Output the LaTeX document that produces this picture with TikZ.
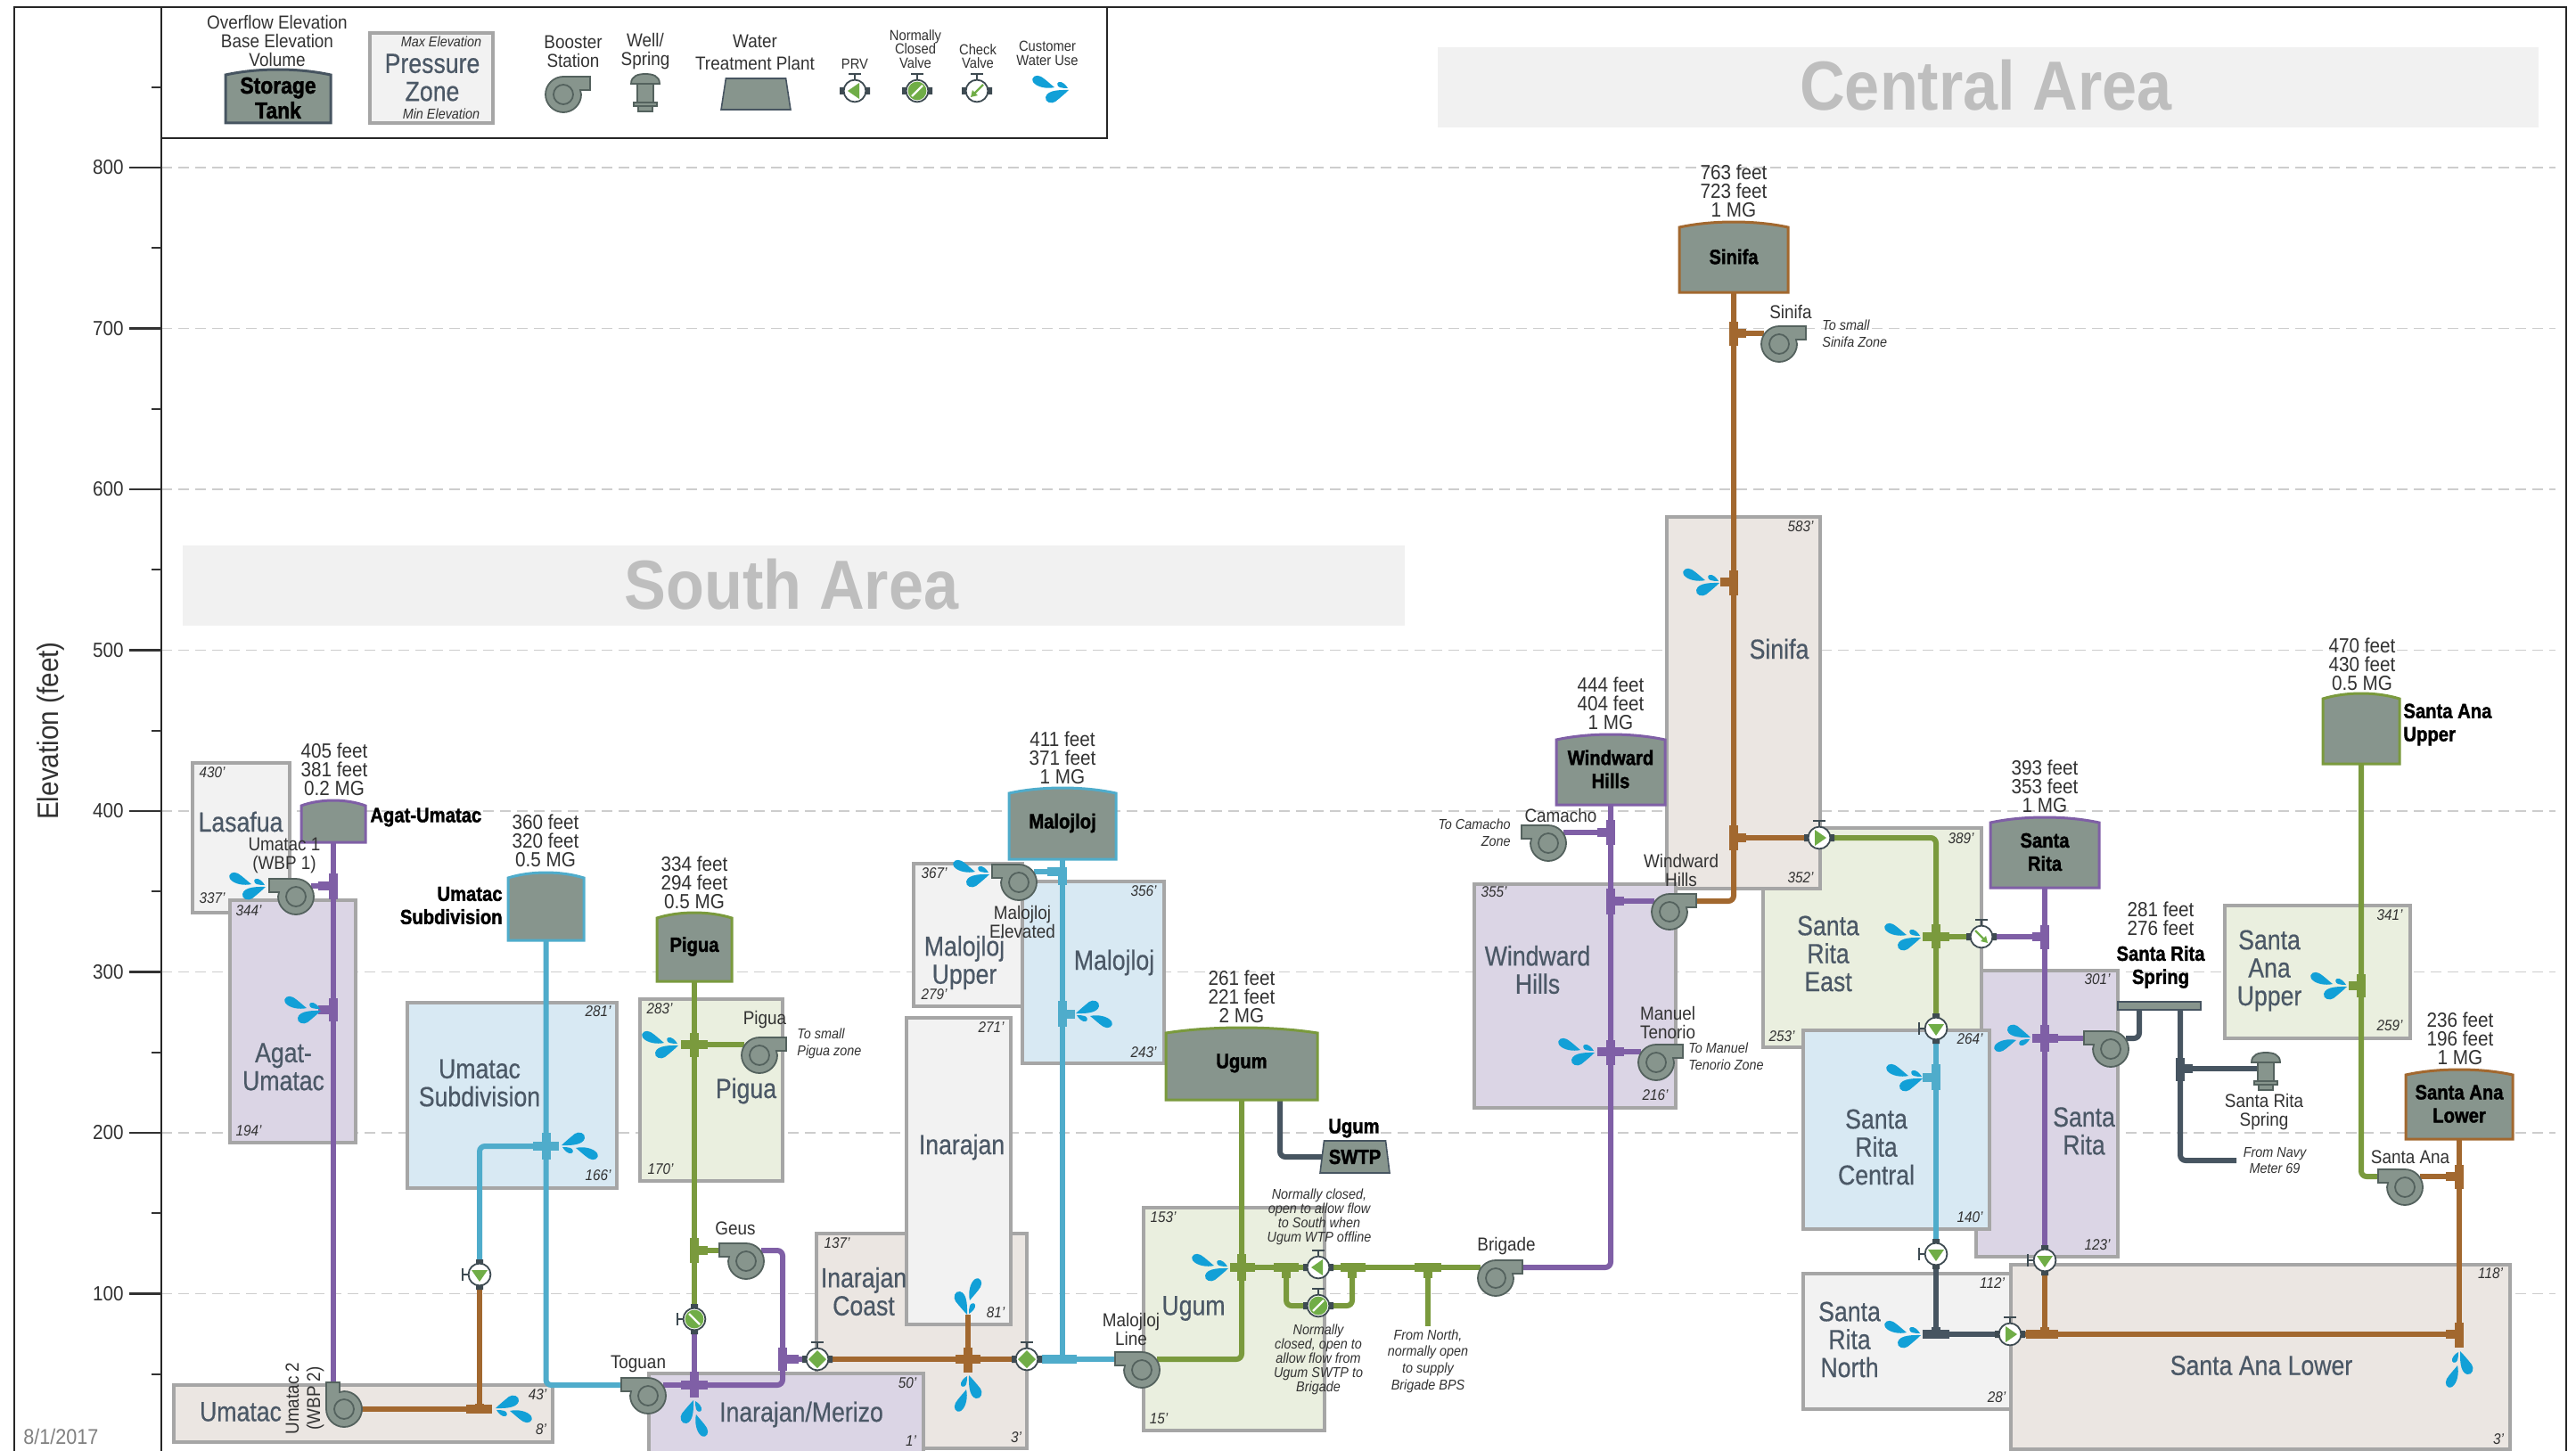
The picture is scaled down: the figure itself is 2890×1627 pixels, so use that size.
\documentclass[tikz,border=0pt]{standalone}
\usepackage{fontspec}
\setmainfont[FakeStretch=0.9]{Liberation Sans}
\newfontfamily\heavyfont[FakeStretch=0.88,FakeBold=1.6,UprightFont={* Bold}]{Liberation Sans}
\newfontfamily\zonefont[FakeStretch=0.86,FakeBold=0.5]{Liberation Sans}
\usepackage{xcolor}
\usetikzlibrary{positioning, arrows.meta, backgrounds, calc, shapes.geometric}
\pgfdeclarelayer{pipes}
\pgfsetlayers{background,pipes,main}
\definecolor{slate}{RGB}{75,88,102}
\definecolor{ink}{RGB}{50,50,50}
\definecolor{rulegrey}{RGB}{166,166,166}
\definecolor{gridgrey}{RGB}{205,205,205}
\definecolor{bandgrey}{RGB}{241,241,241}
\definecolor{bandtext}{RGB}{190,190,190}
\definecolor{zgrey}{RGB}{242,242,242}
\definecolor{zbrown}{RGB}{235,230,226}
\definecolor{zpurple}{RGB}{219,213,229}
\definecolor{zblue}{RGB}{216,233,243}
\definecolor{zgreen}{RGB}{234,239,223}
\definecolor{pipepurple}{RGB}{127,95,166}
\definecolor{pipeblue}{RGB}{79,172,203}
\definecolor{pipegreen}{RGB}{122,154,61}
\definecolor{pipebrown}{RGB}{162,104,47}
\definecolor{pipedark}{RGB}{71,85,97}
\definecolor{tankgrey}{RGB}{135,149,141}
\definecolor{pumpedge}{RGB}{84,98,94}
\definecolor{valvedark}{RGB}{62,75,82}
\definecolor{valvegreen}{RGB}{112,173,71}
\definecolor{dropblue}{RGB}{18,160,215}
\newcommand{\valvebody}{%
  \coordinate (-c) at (0,0);
  \draw[valvedark, line width=1.2pt] (0,-12) -- (0,-19) (-7,-19) -- (7,-19);
  \fill[valvedark] (-17,-4) rectangle (-10,4) (10,-4) rectangle (17,4);
  \draw[draw=valvedark, fill=white, line width=.9pt] (0,0) circle[radius=6.2pt];
}
\tikzset{
  pumpbody/.style={fill=tankgrey, draw=pumpedge, line width=.9pt},
  pics/pump/.style={code={
    \coordinate (-c) at (0,0);
    \coordinate (-dis) at (-30,-12);
    \coordinate (-suc) at (17,-12);
    \draw[pumpbody] (-30,-20) -- (0,-20) .. controls (11,-20) and (20,-11) .. (20,0)
       .. controls (20,11) and (11,20) .. (0,20) .. controls (-11,20) and (-20,11) .. (-20,0)
       .. controls (-20,-2) and (-19.5,-3) .. (-19,-5) -- (-30,-5) -- cycle;
    \draw[pumpbody] (0,0) circle[radius=5.5pt];
  }},
  pics/drops/.style={code={
    \fill[dropblue] (-16,-2) .. controls (-24,0) and (-36,-2) .. (-40,-8)
       .. controls (-43,-14) and (-36,-17) .. (-31,-14) .. controls (-26,-11) and (-20,-5) .. (-16,-2) -- cycle;
    \fill[dropblue] (0,1) .. controls (-6,1) and (-24,0) .. (-26,9)
       .. controls (-27,15) and (-19,17) .. (-15,14) .. controls (-10,10) and (-4,5) .. (0,1) -- cycle;
    \fill[dropblue] (-1,-1) .. controls (-3,-5) and (-8,-9) .. (-11,-8)
       .. controls (-14,-7) and (-13,-3) .. (-10,-2) .. controls (-7,-1) and (-4,-1) .. (-1,-1) -- cycle;
  }},
  pics/well/.style={code={
    \coordinate (-in) at (-9,18);
    \draw[pumpbody] (-16,11) .. controls (-16,2) and (-8,0) .. (0,0) .. controls (8,0) and (16,2) .. (16,11) -- cycle;
    \draw[pumpbody] (-9,11) rectangle (9,32);
    \draw[pumpbody] (-13,32) rectangle (13,36);
    \draw[pumpbody] (-8,36) rectangle (8,42);
  }},
  pics/prv/.style={code={\valvebody
    \fill[valvegreen] (-8,0) -- (5,-9) -- (5,9) -- cycle;
  }},
  pics/closedvalve/.style={code={\valvebody
    \fill[valvegreen] (0,0) circle[radius=5.2pt];
    \draw[white, line width=1.1pt] (-6,6) -- (6,-6);
  }},
  pics/gatevalve/.style={code={\valvebody
    \fill[valvegreen] (-10,0) -- (0,-10) -- (10,0) -- (0,10) -- cycle;
  }},
  pics/checkvalve/.style={code={\valvebody
    \draw[valvegreen, line width=1.1pt, -{Triangle[length=3.5pt,width=4pt]}] (7,-7) -- (-7,7);
  }}
}
\begin{document}
\begin{tikzpicture}[
    x=0.5pt, y=-0.5pt,
    zone/.style={draw=rulegrey, line width=1.7pt, inner sep=0pt},
    zonetext/.style={text=slate, align=center, font=\fontsize{15.5}{15.7}\zonefont},
    tag/.style={text=ink, font=\fontsize{8.5}{9}\itshape\selectfont},
    lbl/.style={text=ink, align=center, inner sep=0pt, font=\fontsize{10.5}{10.5}\selectfont},
    tiny/.style={text=ink, align=center, font=\fontsize{8.2}{7.8}\selectfont},
    note/.style={text=ink, align=center, inner sep=0pt, font=\fontsize{8}{8}\itshape\selectfont},
    notewide/.style={note, font=\fontsize{8}{9.3}\itshape\selectfont},
    heavy/.style={text=black, align=center, inner sep=0pt, font=\fontsize{11.5}{13}\heavyfont},
    tankbody/.style={fill=tankgrey, line width=1.5pt},
    tank/.style={heavy, inner sep=0pt, outer sep=0pt},
    wtp/.style={trapezium, trapezium left angle=77, trapezium right angle=77, trapezium stretches=true,
                fill=tankgrey, draw=pipedark, line width=.8pt, inner sep=0pt, outer sep=0pt,
                minimum width=39pt, minimum height=18pt},
    pipe/.style={line width=3pt, rounded corners=3pt},
    tick/.style={draw=ink, line width=1.1pt},
    frameline/.style={draw=black!85, line width=1.2pt},
    band/.style={fill=bandgrey, inner sep=0pt},
    bandlbl/.style={text=bandtext, font=\fontsize{39}{39}\selectfont\bfseries}
  ]
  \useasboundingbox (0,0) rectangle (2890,1627);

  \begin{scope}[on background layer]
    % elevation grid
    \foreach \v in {100,200,...,800} {
      \draw[gridgrey, line width=.6pt, dash pattern=on 6pt off 3.5pt]
        (181,{188+(800-\v)*1.805}) -- (2867,{188+(800-\v)*1.805});
    }
    \node[band, minimum width=685.5pt, minimum height=45pt] (southband) at (890.5,657) {};
    \node[band, minimum width=617.5pt, minimum height=45pt] (centralband) at (2230.5,98) {};
    % pressure zones, back to front
    \foreach \n/\xa/\ya/\xb/\yb/\c in {
      zLasafua/216/856/325/1024/zgrey, zAgat/258/1010/399/1282/zpurple,
      zUmSub/457/1125/692/1333/zblue, zPigua/718/1121/878/1325/zgreen,
      zUmatac/195/1554/620/1618/zbrown, zInCoast/916/1384/1152/1625/zbrown,
      zMerizo/728/1541/1036/1645/zpurple, zInarajan/1017/1142/1134/1486/zgrey,
      zMalUp/1025/969/1147/1129/zgrey, zMalojloj/1147/989/1306/1193/zblue,
      zUgum/1283/1355/1486/1605/zgreen, zSrMain/2217/1089/2376/1410/zpurple,
      zSrEast/1978/929/2223/1175/zgreen, zSinifa/1870/580/2042/997/zbrown,
      zWindward/1654/992/1880/1243/zpurple, zSrCentral/2023/1156/2232/1379/zblue,
      zSrNorth/2023/1429/2256/1581/zgrey, zSaLower/2256/1419/2816/1626/zbrown,
      zSaUpper/2496/1016/2704/1165/zgreen} {
      \node[zone, fill=\c, minimum width={(\xb-\xa)*0.5pt}, minimum height={(\yb-\ya)*0.5pt}]
        (\n) at ({(\xa+\xb)/2},{(\ya+\yb)/2}) {};
    }
  \end{scope}

  % frame and axis
  \draw[frameline] (16,1640) -- (16,8) -- (2879,8) -- (2879,1640);
  \draw[frameline] (181,1640) -- (181,155) -- (1242,155) -- (1242,8);
  \draw[frameline] (181,155) -- (181,8);
  \foreach \v in {100,200,...,800} {
    \draw[tick] (145,{188+(800-\v)*1.805}) -- (181,{188+(800-\v)*1.805});
    \node[lbl, font=\fontsize{11.5}{11.5}\selectfont, anchor=east] (ax\v) at (139,{188+(800-\v)*1.805}) {\v};
  }
  \foreach \v in {50,150,...,850} {
    \draw[tick] (170,{188+(800-\v)*1.805}) -- (181,{188+(800-\v)*1.805});
  }
  \node[lbl, rotate=90, font=\fontsize{16.5}{16.5}\selectfont] (axis) at (57,820) {Elevation (feet)};
  \node[lbl, text=black!50, font=\fontsize{12}{12}\selectfont, anchor=west] (stamp) at (26,1612) {8/1/2017};
  \node[bandlbl] (southlbl) at (888,656) {South Area};
  \node[bandlbl] (centrallbl) at (2228,96) {Central Area};

  % legend
  \node[lbl] (lgOver) at (311,46) {Overflow Elevation\\[.2pt]Base Elevation\\[.2pt]Volume};
  \draw[tankbody, draw=pipedark] (253,138) -- (253,84) .. controls (290,76) and (334,76) .. (371,84) -- (371,138) -- cycle;
  \node[tank, font=\fontsize{13}{14}\heavyfont, minimum width=59pt, minimum height=30pt] (lgTank) at (312,110) {Storage\\Tank};
  \node[zone, fill=zgrey, minimum width=69pt, minimum height=50.5pt] (lgZone) at (484,87.5) {};
  \node[tag, font=\fontsize{8}{8}\itshape\selectfont] (lgMax) at (495,47) {Max Elevation};
  \node[zonetext] (lgPress) at (485,87) {Pressure\\Zone};
  \node[tag, font=\fontsize{8}{8}\itshape\selectfont] (lgMin) at (495,128) {Min Elevation};
  \node[lbl] (lgBooster) at (643,58) {Booster\\Station};
  \pic[xscale=-1] (lgPump) at (632,106) {pump};
  \node[lbl] (lgWell) at (724,58) {Well/\\Spring};
  \pic (lgSpring) at (724,83) {well};
  \node[lbl, font=\fontsize{10.5}{12.5}\selectfont] (lgPlant) at (847,59) {Water\\Treatment Plant};
  \node[wtp, minimum width=39pt, minimum height=17.5pt] (lgWtp) at (848,105.5) {\phantom{WTP}};
  \node[tiny] (lgPrvT) at (959,72) {PRV};
  \pic (lgPrv) at (959,102) {prv};
  \node[tiny] (lgClosedT) at (1027,55) {Normally\\Closed\\Valve};
  \pic (lgClosed) at (1029,102) {closedvalve};
  \node[tiny] (lgCheckT) at (1097,63) {Check\\Valve};
  \pic (lgCheck) at (1096,102) {checkvalve};
  \node[tiny] (lgUseT) at (1175,60) {Customer\\Water Use};
  \pic (lgUse) at (1199,100) {drops};

  % zone names
  \foreach \x/\y/\t [count=\i] in {
    270/922/Lasafua, 318/1197/{Agat-\\Umatac}, 538/1215/{Umatac\\Subdivision},
    837/1224/Pigua, 270/1584/Umatac, 969/1449/{Inarajan\\Coast}, 1079/1287/Inarajan,
    1082/1080/{Malojloj\\Upper}, 1250/1080/Malojloj, 1339/1468/Ugum,
    1725/1088/{Windward\\Hills}, 1996/728/Sinifa, 2051/1070/{Santa\\Rita\\East},
    2338/1269/{Santa\\Rita}, 2105/1287/{Santa\\Rita\\Central}, 2075/1503/{Santa\\Rita\\North},
    2537/1532/Santa Ana Lower, 2546/1089/{Santa\\Ana\\Upper}} {
    \node[zonetext] (zn\i) at (\x,\y) {\t};
  }
  \node[zonetext] (znMerizo) at (899,1587) {Inarajan/Merizo};

  % zone elevations
  \foreach \x/\y/\t [count=\i] in {
    238/867/430', 238/1008/337', 279/1022/344', 279/1269/194', 671/1135/281', 671/1319/166',
    740/1132/283', 741/1312/170', 603/1565/43', 607/1604/8', 939/1395/137', 1140/1613/3',
    1018/1552/50', 1022/1617/1', 1112/1153/271', 1117/1473/81', 1048/980/367', 1048/1116/279',
    1283/1000/356', 1283/1181/243', 1305/1366/153', 1300/1592/15', 1676/1001/355', 1857/1229/216',
    2020/591/583', 2020/985/352', 2200/941/389', 1999/1163/253', 2353/1099/301', 2353/1397/123',
    2210/1166/264', 2210/1366/140', 2235/1440/112', 2240/1568/28', 2794/1429/118', 2803/1615/3',
    2681/1027/341', 2681/1151/259'} {
    \node[tag] (el\i) at (\x,\y) {\t};
  }

  % tanks
  \foreach \n/\xa/\ya/\xb/\yb/\c/\t in {
    tkAgat/338/897/410/945/pipepurple/{}, tkUmSub/570/978/655/1055/pipeblue/{},
    tkPigua/737/1023/821/1101/pipegreen/Pigua, tkMalojloj/1132/883/1252/964/pipeblue/Malojloj,
    tkUgum/1308/1152/1478/1234/pipegreen/Ugum, tkWindward/1746/823/1868/903/pipepurple/{Windward\\Hills},
    tkSinifa/1884/248/2006/328/pipebrown/Sinifa, tkSantaRita/2233/916/2355/996/pipepurple/{Santa\\Rita},
    tkSaUpper/2606/777/2692/857/pipegreen/{}, tkSaLower/2699/1199/2819/1278/pipebrown/{Santa Ana\\Lower}} {
    \draw[tankbody, draw=\c] (\xa,\yb) -- ({\xa},{\ya+7})
       .. controls ({\xa+(\xb-\xa)*0.3},{\ya-1}) and ({\xb-(\xb-\xa)*0.3},{\ya-1}) .. ({\xb},{\ya+7})
       -- (\xb,\yb) -- cycle;
    \node[tank, minimum width={(\xb-\xa)*0.5pt}, minimum height={(\yb-\ya)*0.5pt}]
      (\n) at ({(\xa+\xb)/2},{(\ya+\yb)/2}) {\t};
  }
  \node[wtp, font=\fontsize{11.5}{11.5}\heavyfont] (wtpUgum) at (1520,1298) {SWTP};
  \node[fill=tankgrey, draw=pipedark, line width=.8pt, minimum width=46.5pt, minimum height=4.5pt, inner sep=0pt, outer sep=0pt]
    (barSpring) at (2422.5,1128.5) {};

  % tank data
  \foreach \x/\y/\t [count=\i] in {
    375/863/{405 feet\\381 feet\\0.2 MG}, 612/943/{360 feet\\320 feet\\0.5 MG},
    779/990/{334 feet\\294 feet\\0.5 MG}, 1192/850/{411 feet\\371 feet\\1 MG},
    1393/1118/{261 feet\\221 feet\\2 MG}, 1807/789/{444 feet\\404 feet\\1 MG},
    1945/214/{763 feet\\723 feet\\1 MG}, 2294/882/{393 feet\\353 feet\\1 MG},
    2424/1031/{281 feet\\276 feet}, 2650/745/{470 feet\\430 feet\\0.5 MG},
    2760/1165/{236 feet\\196 feet\\1 MG}} {
    \node[lbl, font=\fontsize{11.5}{10.6}\selectfont] (data\i) at (\x,\y) {\t};
  }
  \node[heavy, anchor=west] (nmAgat) at (415,917) {Agat-Umatac};
  \node[heavy, anchor=east, align=right] (nmUmSub) at (564,1016) {Umatac\\Subdivision};
  \node[heavy, anchor=west, align=left] (nmSaUpper) at (2696,813) {Santa Ana\\Upper};
  \node[heavy] (nmSpring) at (2424,1085) {Santa Rita\\Spring};
  \node[heavy] (nmSwtp) at (1519,1266) {Ugum};

  % pumps and spring
  \pic (pUmatacA) at (332,1006) {pump};
  \pic[rotate=90, xscale=-1] (pUmatacB) at (386,1581) {pump};
  \pic (pToguan) at (727,1566) {pump};
  \pic[xscale=-1] (pPigua) at (852,1184) {pump};
  \pic (pGeus) at (837,1415) {pump};
  \pic (pElevated) at (1143,990) {pump};
  \pic (pLine) at (1281,1537) {pump};
  \pic[xscale=-1] (pBrigade) at (1678,1434) {pump};
  \pic (pCamacho) at (1737,946) {pump};
  \pic[xscale=-1] (pWindward) at (1873,1023) {pump};
  \pic[xscale=-1] (pTenorio) at (1858,1192) {pump};
  \pic[xscale=-1] (pSinifa) at (1996,386) {pump};
  \pic (pSantaRita) at (2368,1177) {pump};
  \pic (pSantaAna) at (2698,1332) {pump};
  \pic (wSpring) at (2542,1181) {well};

  % valves
  \pic[rotate=90] (vUmatac) at (538,1430) {prv};
  \pic[rotate=90] (vGeus) at (779,1480) {closedvalve};
  \pic (vInWest) at (917,1525) {gatevalve};
  \pic (vInEast) at (1152,1525) {gatevalve};
  \pic (vUgumA) at (1479,1422) {prv};
  \pic (vUgumB) at (1479,1465) {closedvalve};
  \pic[xscale=-1] (vSinifa) at (2041,940) {prv};
  \pic[xscale=-1] (vEast) at (2223,1051) {checkvalve};
  \pic[rotate=90] (vCentTop) at (2172,1154) {prv};
  \pic[rotate=90] (vCentLow) at (2172,1407) {prv};
  \pic[rotate=90] (vRita) at (2294,1414) {prv};
  \pic[xscale=-1] (vNorth) at (2255,1497) {prv};

  % customer use
  \pic (dUmatacA) at (298,994) {drops};
  \pic (dAgat) at (360,1133) {drops};
  \pic[rotate=180] (dUmatac) at (556,1581) {drops};
  \pic[rotate=180] (dUmSub) at (630,1286) {drops};
  \pic (dPigua) at (761,1172) {drops};
  \pic[rotate=90, yscale=-1] (dMerizo) at (779,1571) {drops};
  \pic[rotate=90] (dCoast) at (1086,1543) {drops};
  \pic[rotate=-90] (dInarajan) at (1086,1475) {drops};
  \pic (dMalUp) at (1110,980) {drops};
  \pic[rotate=180] (dMalojloj) at (1207,1138) {drops};
  \pic (dUgum) at (1378,1422) {drops};
  \pic (dWindward) at (1789,1180) {drops};
  \pic (dSinifa) at (1929,653) {drops};
  \pic (dEast) at (2155,1051) {drops};
  \pic[yscale=-1] (dRita) at (2278,1165) {drops};
  \pic (dCentral) at (2157,1209) {drops};
  \pic (dNorth) at (2155,1497) {drops};
  \pic (dSaUpper) at (2633,1106) {drops};
  \pic[rotate=90] (dSaLower) at (2759,1516) {drops};

  % pump names
  \foreach \x/\y/\t [count=\i] in {
    319/960/{Umatac 1\\(WBP 1)}, 716/1530/Toguan, 858/1144/Pigua, 825/1378/Geus,
    1147/1034/{Malojloj\\Elevated}, 1269/1491/{Malojloj\\Line}, 1690/1398/Brigade,
    1751/915/Camacho, 1886/976/{Windward\\Hills}, 1871/1147/{Manuel\\Tenorio},
    2009/350/Sinifa, 2704/1298/Santa Ana, 2540/1248/{Santa Rita\\Spring}} {
    \node[lbl] (pn\i) at (\x,\y) {\t};
  }
  \node[lbl, rotate=90, font=\fontsize{10.5}{12}\selectfont] (pnUmatacB) at (342,1569) {Umatac 2\\(WBP 2)};

  % remarks
  \node[notewide, anchor=west, align=left] (rmPigua) at (894,1171) {To small\\Pigua zone};
  \node[notewide, anchor=west, align=left] (rmTenorio) at (1894,1185) {To Manuel\\Tenorio Zone};
  \node[notewide, anchor=west, align=left] (rmSinifa) at (2044,374) {To small\\Sinifa Zone};
  \node[notewide, anchor=east, align=right] (rmCamacho) at (1695,934) {To Camacho\\Zone};
  \node[notewide] (rmNavy) at (2552,1302) {From Navy\\Meter 69};
  \node[note] (rmSouth) at (1480,1365) {Normally closed,\\open to allow flow\\to South when\\Ugum WTP offline};
  \node[note] (rmSwtp) at (1479,1525) {Normally\\closed, open to\\allow flow from\\Ugum SWTP to\\Brigade};
  \node[notewide] (rmNorth) at (1602,1527) {From North,\\normally open\\to supply\\Brigade BPS};

  \begin{pgfonlayer}{pipes}
    % fittings on the mains: name/x/y/colour/left/right/up/down
    \foreach \n/\x/\y/\c/\l/\r/\u/\d in {
      tAgatA/374/994/pipepurple/17/5/14/15, tAgatB/374/1133/pipepurple/17/5/13/13,
      tSubA/612.5/1286/pipeblue/15/14/15/15, tUmatac/538/1581/pipebrown/15/14/6/5,
      tPiguaA/779/1172/pipegreen/15/15/13/14, tPiguaB/779/1403/pipegreen/5/15/14/14,
      tToguan/779/1554/pipepurple/15/15/15/14, tGeus/878/1525/pipepurple/5/18/13/13,
      tCoast/1086/1525/pipebrown/14/14/13/15, tMalA/1192/1525/pipeblue/23/16/5/5,
      tMalB/1192/978/pipeblue/17/5/5/15, tMalC/1192/1138/pipeblue/5/14/15/14,
      tUgumA/1393/1422/pipegreen/13/15/15/15, tUgumB/1443/1422/pipegreen/14/14/5/12,
      tUgumC/1517/1422/pipegreen/13/15/5/12, tUgumD/1602/1422/pipegreen/15/15/5/12,
      tWindA/1807/934/pipepurple/15/5/14/14, tWindB/1807/1011/pipepurple/5/15/14/15,
      tWindC/1807/1180/pipepurple/15/15/13/15, tSinA/1945/374/pipebrown/5/14/13/14,
      tSinB/1945/653/pipebrown/15/5/13/15, tSinC/1945/940/pipebrown/5/14/14/14,
      tEast/2172/1051/pipegreen/15/15/14/13, tRitaA/2294/1051/pipepurple/14/5/13/14,
      tRitaB/2294/1165/pipepurple/14/15/15/15, tCentral/2172/1209/pipeblue/15/5/15/14,
      tNorth/2172/1497/pipedark/15/15/8/5, tRitaC/2294/1497/pipebrown/21/15/8/5,
      tLowerA/2759/1497/pipebrown/15/5/13/15, tLowerB/2759/1320/pipebrown/15/5/13/14,
      tUpper/2649/1106/pipegreen/14/5/13/13, tSpring/2446/1199/pipedark/5/14/12/14} {
      \coordinate (\n) at (\x,\y);
      \fill[\c] ({\x-\l},{\y-5}) rectangle ({\x+\r},{\y+5});
      \fill[\c] ({\x-5},{\y-\u}) rectangle ({\x+5},{\y+\d});
    }
    \coordinate (cSwtp) at (1436,1234);
    \coordinate (cBarA) at (2400,1133);
    \coordinate (cBarB) at (2446,1133);
    \coordinate (cNavy) at (2509,1302);
    \coordinate (cNorth) at (1602,1488);
    \coordinate (cCoast) at (1086,1475);
    \coordinate (cLower) at (2759,1512);

    \draw[pipe, pipepurple] (tkAgat) -- (pUmatacB-dis);
    \draw[pipe, pipepurple] (tAgatA) -- (pUmatacA-suc);
    \draw[pipe, pipebrown] (pUmatacB-c) -- (tUmatac);
    \draw[pipe, pipeblue] (tkUmSub) |- (pToguan-dis);
    \draw[pipe, pipeblue] (tSubA) -| (vUmatac-c);
    \draw[pipe, pipebrown] (vUmatac-c) -- (tUmatac);
    \draw[pipe, pipegreen] (tkPigua) -- (vGeus-c);
    \draw[pipe, pipegreen] (tPiguaA) -- (pPigua-suc);
    \draw[pipe, pipegreen] (tPiguaB) -- (pGeus-dis);
    \draw[pipe, pipepurple] (vGeus-c) -- (tToguan);
    \draw[pipe, pipepurple] (pToguan-suc) -- (tToguan);
    \draw[pipe, pipepurple] (pGeus-suc) -| (tGeus) |- (tToguan);
    \draw[pipe, pipepurple] (tGeus) -- (vInWest-c);
    \draw[pipe, pipebrown] (vInWest-c) -- (vInEast-c);
    \draw[pipe, pipebrown] (tCoast) -- (cCoast);
    \draw[pipe, pipeblue] (vInEast-c) -- (pLine-dis);
    \draw[pipe, pipeblue] (tkMalojloj) -- (tMalA);
    \draw[pipe, pipeblue] (tMalB) -- (pElevated-suc);
    \draw[pipe, pipegreen] (tkUgum) |- (pLine-suc);
    \draw[pipe, pipedark] (cSwtp) |- (wtpUgum);
    \draw[pipe, pipegreen] (tUgumA) -- (vUgumA-c);
    \draw[pipe, pipegreen] (vUgumA-c) -- (pBrigade-suc);
    \draw[pipe, pipegreen] (tUgumB) |- (vUgumB-c);
    \draw[pipe, pipegreen] (vUgumB-c) -| (tUgumC);
    \draw[pipe, pipegreen] (tUgumD) -- (cNorth);
    \draw[pipe, pipepurple] (tkWindward) |- (pBrigade-dis);
    \draw[pipe, pipepurple] (tWindA) -- (pCamacho-suc);
    \draw[pipe, pipepurple] (tWindB) -- (pWindward-suc);
    \draw[pipe, pipepurple] (tWindC) -- (pTenorio-suc);
    \draw[pipe, pipebrown] (tkSinifa) |- (pWindward-dis);
    \draw[pipe, pipebrown] (tSinA) -- (pSinifa-suc);
    \draw[pipe, pipebrown] (tSinC) -- (vSinifa-c);
    \draw[pipe, pipegreen] (vSinifa-c) -| (vCentTop-c);
    \draw[pipe, pipegreen] (tEast) -- (vEast-c);
    \draw[pipe, pipepurple] (vEast-c) -- (tRitaA);
    \draw[pipe, pipepurple] (tkSantaRita) -- (vRita-c);
    \draw[pipe, pipepurple] (tRitaB) -- (pSantaRita-dis);
    \draw[pipe, pipedark] (pSantaRita-suc) -| (cBarA);
    \draw[pipe, pipedark] (cBarB) |- (cNavy);
    \draw[pipe, pipedark] (tSpring) -- (wSpring-in);
    \draw[pipe, pipeblue] (vCentTop-c) -- (vCentLow-c);
    \draw[pipe, pipedark] (vCentLow-c) -- (tNorth);
    \draw[pipe, pipedark] (tNorth) -- (vNorth-c);
    \draw[pipe, pipebrown] (vRita-c) -- (tRitaC);
    \draw[pipe, pipebrown] (vNorth-c) -- (tLowerA);
    \draw[pipe, pipebrown] (tkSaLower) -- (cLower);
    \draw[pipe, pipebrown] (tLowerB) -- (pSantaAna-suc);
    \draw[pipe, pipegreen] (tkSaUpper) |- (pSantaAna-dis);
  \end{pgfonlayer}
\end{tikzpicture}
\end{document}
